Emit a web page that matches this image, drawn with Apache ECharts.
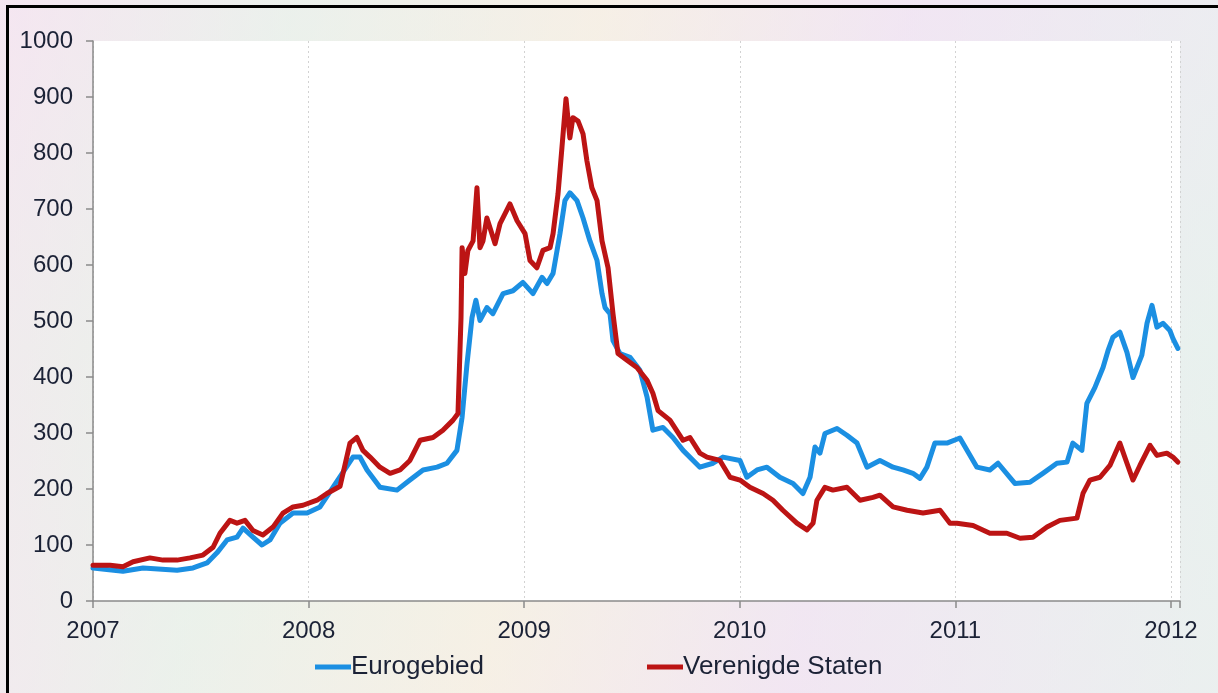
<!DOCTYPE html>
<html>
<head>
<meta charset="utf-8">
<script src="https://cdn.jsdelivr.net/npm/echarts@6/dist/echarts.min.js"></script>
<style>
  html, body { margin: 0; padding: 0; overflow: hidden; width: 1218px; height: 693px; }
  body {
    position: relative;
    background:
      linear-gradient(100deg, rgba(246,226,240,0.6) 0%, rgba(230,244,232,0.6) 22%, rgba(248,242,222,0.6) 45%, rgba(240,226,244,0.6) 68%, rgba(228,242,238,0.6) 100%),
      linear-gradient(180deg, #f3ebf2 0%, #ecf3ec 50%, #f4ecf0 100%);
  }
  #frame {
    position: absolute; left: 6px; top: 5px; width: 1212px; height: 688px;
    border-top: 3px solid #000; border-left: 3px solid #000;
    box-sizing: border-box; pointer-events: none; z-index: 2;
  }
  #chart { position: absolute; left: 0; top: 0; width: 1218px; height: 693px; }
</style>
</head>
<body>
<div id="chart"></div>
<div id="frame"></div>
<script>
// Year ticks and legend names
const yearTicks = [2007, 2008, 2009, 2010, 2011, 2012];
const seriesNames = ['Eurogebied', 'Verenigde Staten'];

// Eurogebied (decimal years, values)
const euroYears = [2007.000, 2007.139, 2007.232, 2007.390, 2007.464, 2007.529, 2007.575, 2007.622, 2007.668, 2007.696,
  2007.742, 2007.784, 2007.821, 2007.867, 2007.928, 2007.993, 2008.053, 2008.113, 2008.206, 2008.238,
  2008.271, 2008.331, 2008.410, 2008.470, 2008.531, 2008.596, 2008.642, 2008.688, 2008.712, 2008.735,
  2008.758, 2008.776, 2008.795, 2008.827, 2008.855, 2008.902, 2008.948, 2008.994, 2009.041, 2009.083,
  2009.106, 2009.134, 2009.166, 2009.189, 2009.212, 2009.245, 2009.273, 2009.305, 2009.338, 2009.361,
  2009.375, 2009.398, 2009.412, 2009.444, 2009.491, 2009.537, 2009.570, 2009.597, 2009.644, 2009.690,
  2009.737, 2009.815, 2009.876, 2009.922, 2010.001, 2010.033, 2010.080, 2010.126, 2010.186, 2010.247,
  2010.293, 2010.326, 2010.349, 2010.372, 2010.395, 2010.451, 2010.497, 2010.544, 2010.590, 2010.650,
  2010.711, 2010.757, 2010.803, 2010.836, 2010.868, 2010.905, 2010.961, 2011.021, 2011.100, 2011.160,
  2011.198, 2011.276, 2011.346, 2011.406, 2011.471, 2011.518, 2011.545, 2011.587, 2011.610, 2011.647,
  2011.685, 2011.708, 2011.731, 2011.763, 2011.796, 2011.824, 2011.865, 2011.889, 2011.912, 2011.935,
  2011.963, 2011.995, 2012.009, 2012.032];
const euroValues = [59, 53, 59, 55, 59, 68, 86, 109, 114, 130,
  114, 100, 109, 139, 157, 157, 168, 203, 257, 257,
  234, 203, 198, 216, 234, 239, 246, 269, 328, 424,
  506, 537, 501, 524, 513, 549, 554, 569, 549, 578,
  567, 585, 656, 715, 729, 715, 684, 643, 608, 549,
  524, 513, 465, 442, 435, 412, 364, 305, 310, 292,
  269, 239, 246, 257, 251, 221, 234, 239, 221, 210,
  192, 221, 275, 264, 299, 308, 296, 282, 239, 251,
  239, 234, 228, 219, 239, 282, 282, 291, 239, 234,
  246, 210, 212, 228, 246, 248, 282, 269, 353, 381,
  417, 447, 471, 480, 444, 399, 439, 496, 528, 489,
  496, 483, 469, 451];

// Verenigde Staten (decimal years, values)
const usYears = [2007.000, 2007.079, 2007.139, 2007.186, 2007.264, 2007.325, 2007.390, 2007.450, 2007.510, 2007.557,
  2007.589, 2007.635, 2007.668, 2007.705, 2007.742, 2007.788, 2007.835, 2007.881, 2007.928, 2007.974,
  2008.039, 2008.085, 2008.146, 2008.192, 2008.224, 2008.252, 2008.285, 2008.331, 2008.378, 2008.424,
  2008.470, 2008.517, 2008.577, 2008.623, 2008.670, 2008.693, 2008.707, 2008.712, 2008.725, 2008.739,
  2008.763, 2008.781, 2008.795, 2008.809, 2008.827, 2008.865, 2008.888, 2008.934, 2008.967, 2009.004,
  2009.027, 2009.059, 2009.087, 2009.120, 2009.134, 2009.157, 2009.175, 2009.194, 2009.212, 2009.226,
  2009.250, 2009.273, 2009.291, 2009.314, 2009.338, 2009.361, 2009.389, 2009.412, 2009.435, 2009.477,
  2009.523, 2009.570, 2009.597, 2009.621, 2009.676, 2009.737, 2009.769, 2009.815, 2009.848, 2009.908,
  2009.955, 2010.001, 2010.047, 2010.108, 2010.154, 2010.200, 2010.265, 2010.312, 2010.340, 2010.358,
  2010.395, 2010.432, 2010.497, 2010.558, 2010.618, 2010.650, 2010.711, 2010.776, 2010.850, 2010.929,
  2010.975, 2011.007, 2011.082, 2011.160, 2011.239, 2011.300, 2011.360, 2011.425, 2011.485, 2011.564,
  2011.592, 2011.624, 2011.671, 2011.717, 2011.763, 2011.796, 2011.824, 2011.856, 2011.903, 2011.935,
  2011.981, 2012.009, 2012.032];
const usValues = [64, 64, 61, 70, 77, 73, 73, 77, 82, 96,
  121, 144, 139, 144, 126, 118, 132, 157, 168, 171,
  180, 192, 205, 282, 292, 269, 257, 239, 228, 234,
  251, 287, 292, 305, 323, 335, 506, 631, 585, 626,
  643, 738, 631, 643, 684, 638, 674, 709, 679, 656,
  608, 595, 626, 631, 656, 727, 809, 897, 827, 863,
  857, 834, 786, 738, 715, 643, 595, 513, 442, 430,
  417, 394, 371, 340, 323, 287, 292, 264, 257, 251,
  221, 216, 203, 192, 180, 162, 139, 127, 139, 180,
  203, 198, 203, 180, 185, 189, 168, 162, 157, 162,
  139, 139, 135, 121, 121, 112, 114, 132, 144, 148,
  192, 216, 221, 242, 282, 246, 216, 242, 278, 260,
  264, 257, 248];

const pair = (xs, ys) => xs.map((x, i) => [x, ys[i]]);

const textColor = '#1b2236';
const fontFamily = '"Liberation Sans", Arial, sans-serif';

const chart = echarts.init(document.getElementById('chart'), null, { renderer: 'canvas' });
chart.setOption({
  backgroundColor: 'transparent',
  animation: false,
  grid: {
    left: 93, top: 41, right: 38, bottom: 92,
    show: true, backgroundColor: '#ffffff', borderWidth: 0
  },
  legend: {
    data: seriesNames,
    left: 315, top: 654,
    padding: 0,
    itemGap: 163,
    itemWidth: 36, itemHeight: 5,
    icon: 'rect',
    textStyle: { color: textColor, fontSize: 26, fontFamily: fontFamily, padding: [0, 0, 0, -5] }
  },
  xAxis: {
    type: 'value',
    min: yearTicks[0], max: 2012.042, interval: 1,
    axisLine: { show: true, lineStyle: { color: '#8a8a8a', width: 1.5 } },
    axisTick: { show: true, length: 7, inside: false, lineStyle: { color: '#8a8a8a', width: 1.5 } },
    axisLabel: {
      color: textColor, fontSize: 24, fontFamily: fontFamily, margin: 18,
      formatter: v => yearTicks.includes(v) ? String(v) : ''
    },
    splitLine: { show: true, lineStyle: { color: '#d2d2d2', type: [2, 3], width: 1 } }
  },
  yAxis: {
    type: 'value',
    min: 0, max: 1000, interval: 100,
    axisLine: { show: true, lineStyle: { color: '#8a8a8a', width: 1.5 } },
    axisTick: { show: true, length: 7, lineStyle: { color: '#8a8a8a', width: 1.5 } },
    axisLabel: { color: textColor, fontSize: 24, fontFamily: fontFamily, margin: 20, formatter: v => String(v) },
    splitLine: { show: false }
  },
  series: [
    {
      name: seriesNames[0], type: 'line', showSymbol: false, symbol: 'none',
      data: pair(euroYears, euroValues),
      lineStyle: { color: '#1b8fe2', width: 5, join: 'round', cap: 'round' },
      itemStyle: { color: '#1b8fe2' }
    },
    {
      name: seriesNames[1], type: 'line', showSymbol: false, symbol: 'none',
      data: pair(usYears, usValues),
      lineStyle: { color: '#bc1414', width: 5, join: 'round', cap: 'round' },
      itemStyle: { color: '#bc1414' }
    }
  ]
});
</script>
</body>
</html>
